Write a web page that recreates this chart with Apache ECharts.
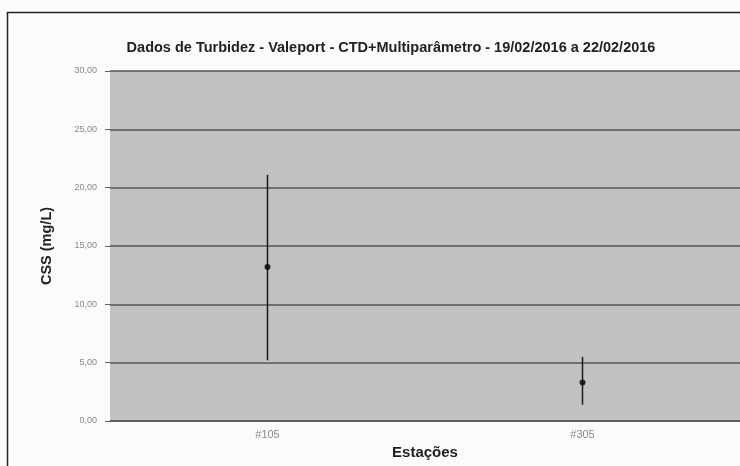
<!DOCTYPE html>
<html><head><meta charset="utf-8">
<script src="https://cdn.jsdelivr.net/npm/echarts@6/dist/echarts.min.js"></script>
<style>html,body{margin:0;padding:0;background:#fbfbfb}#c{width:740px;height:466px}</style>
</head><body><div id="c"></div>
<script>
const categories = ['#105', '#305'];
const meanValues = [13.2, 3.3];
const lowValues = [5.2, 1.4];
const highValues = [21.1, 5.5];
const yTicks = [0, 5, 10, 15, 20, 25, 30];

const chart = echarts.init(document.getElementById('c'));
chart.setOption({
  backgroundColor: '#fbfbfb',
  animation: false,
  title: {
    text: 'Dados de Turbidez - Valeport - CTD+Multiparâmetro - 19/02/2016 a 22/02/2016',
    left: 386, top: 35, textAlign: 'center',
    textStyle: {fontFamily: 'Liberation Sans', fontSize: 14.5, fontWeight: 'bold', color: '#222'}
  },
  graphic: [{type: 'rect', shape: {x: 7.5, y: 12.5, width: 740, height: 460},
    style: {fill: 'none', stroke: '#222', lineWidth: 1.5}, silent: true}],
  grid: {left: 110, right: 0, top: 71, bottom: 45, show: true, backgroundColor: '#c2c2c2', borderWidth: 0},
  xAxis: {
    type: 'category', data: categories,
    name: 'Estações', nameLocation: 'middle', nameGap: 20,
    nameTextStyle: {fontFamily: 'Liberation Sans', fontSize: 15, fontWeight: 'bold', color: '#222'},
    axisLine: {lineStyle: {color: '#555', width: 1.5}},
    axisTick: {show: false},
    axisLabel: {fontFamily: 'Liberation Sans', fontSize: 11, color: '#888', margin: 8},
    splitLine: {show: false}
  },
  yAxis: {
    type: 'value', min: 0, max: 30, interval: 5,
    name: 'CSS (mg/L)', nameLocation: 'middle', nameGap: 56,
    nameTextStyle: {fontFamily: 'Liberation Sans', fontSize: 14.5, fontWeight: 'bold', color: '#222'},
    axisLine: {show: false},
    axisTick: {show: true, length: 5, lineStyle: {color: '#666'}},
    axisLabel: {fontFamily: 'Liberation Sans', fontSize: 9, color: '#888', margin: 13,
      formatter: v => yTicks.includes(v) ? v.toFixed(2).replace('.', ',') : ''},
    splitLine: {lineStyle: {color: '#555', width: 1.5}}
  },
  series: [
    {
      type: 'custom',
      data: categories.map((c, i) => [i, lowValues[i], highValues[i]]),
      renderItem: function (params, api) {
        const lo = api.coord([api.value(0), api.value(1)]);
        const hi = api.coord([api.value(0), api.value(2)]);
        return {type: 'line', shape: {x1: lo[0], y1: lo[1], x2: hi[0], y2: hi[1]},
          style: {stroke: '#1a1a1a', lineWidth: 1.5}};
      },
      z: 3
    },
    {
      type: 'scatter',
      data: categories.map((c, i) => [i, meanValues[i]]),
      symbol: 'circle', symbolSize: 6,
      itemStyle: {color: '#000'},
      z: 4
    }
  ]
});
</script></body></html>
